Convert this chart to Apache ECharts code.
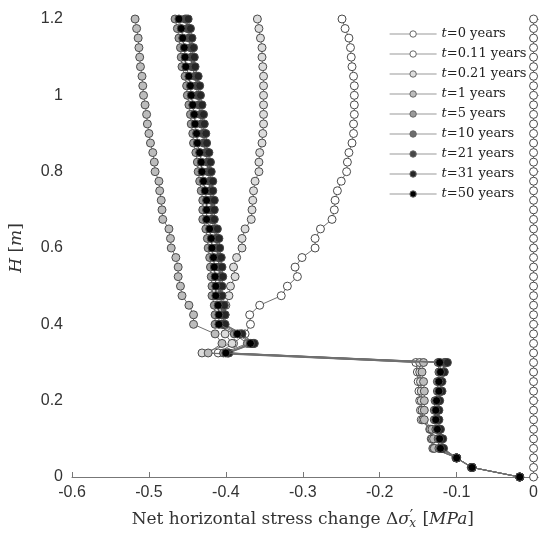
<!DOCTYPE html>
<html>
<head>
<meta charset="utf-8">
<script src="https://cdn.jsdelivr.net/npm/echarts@6/dist/echarts.min.js"></script>
<style>html,body{margin:0;padding:0;background:#fff}#c{width:541px;height:535px}</style>
</head>
<body>
<div id="c"></div>
<script>
// Heights H [m]
var heights = [0,0.025,0.05,0.075,0.1,0.125,0.15,0.175,0.2,0.225,0.25,0.275,0.3,0.325,0.35,0.375,0.4,0.425,0.45,0.475,0.5,0.525,0.55,0.575,0.6,0.625,0.65,0.675,0.7,0.725,0.75,0.775,0.8,0.825,0.85,0.875,0.9,0.925,0.95,0.975,1,1.025,1.05,1.075,1.1,1.125,1.15,1.175,1.2];
var seriesNames = ['0','0.11','0.21','1','5','10','21','31','50'];
var fillColors = ['#ffffff','#ffffff','#dcdcdc','#bcbcbc','#9a9a9a','#6c6c6c','#474747','#262626','#000000'];

var s_t0 = [0,0,0,0,0,0,0,0,0,0,0,0,0,0,0,0,0,0,0,0,0,0,0,0,0,0,0,0,0,0,0,0,0,0,0,0,0,0,0,0,0,0,0,0,0,0,0,0,0];
var s_t011 = [-0.018,-0.080,-0.100,-0.131,-0.133,-0.135,-0.146,-0.147,-0.148,-0.149,-0.150,-0.151,-0.153,
  -0.410,-0.390,-0.375,-0.368,-0.369,-0.356,-0.328,-0.320,-0.307,-0.310,-0.301,-0.284,-0.284,-0.277,-0.262,-0.259,-0.258,-0.255,-0.250,-0.243,-0.242,-0.240,-0.236,-0.234,-0.234,-0.233,-0.233,-0.233,-0.233,-0.234,-0.236,-0.237,-0.238,-0.240,-0.245,-0.249];
var s_t021 = [-0.018,-0.080,-0.100,-0.130,-0.132,-0.134,-0.144,-0.145,-0.146,-0.146,-0.147,-0.148,-0.148,
  -0.431,-0.392,-0.401,-0.402,-0.401,-0.400,-0.396,-0.394,-0.388,-0.390,-0.386,-0.379,-0.379,-0.375,-0.367,-0.366,-0.365,-0.364,-0.362,-0.357,-0.357,-0.356,-0.353,-0.352,-0.351,-0.351,-0.351,-0.351,-0.351,-0.351,-0.352,-0.353,-0.353,-0.355,-0.357,-0.359];
var s_t1 = [-0.018,-0.080,-0.100,-0.129,-0.130,-0.132,-0.142,-0.142,-0.142,-0.142,-0.143,-0.145,-0.143,
  -0.423,-0.405,-0.414,-0.442,-0.442,-0.448,-0.457,-0.459,-0.462,-0.462,-0.465,-0.471,-0.472,-0.474,-0.482,-0.483,-0.484,-0.486,-0.487,-0.492,-0.493,-0.495,-0.498,-0.500,-0.502,-0.503,-0.505,-0.507,-0.508,-0.509,-0.511,-0.512,-0.513,-0.514,-0.516,-0.518];
var s_t5 = [-0.018,-0.081,-0.101,-0.123,-0.124,-0.127,-0.129,-0.129,-0.128,-0.125,-0.125,-0.123,-0.124,
  -0.403,-0.372,-0.389,-0.414,-0.414,-0.415,-0.418,-0.418,-0.419,-0.420,-0.421,-0.423,-0.424,-0.426,-0.430,-0.430,-0.430,-0.432,-0.434,-0.436,-0.437,-0.439,-0.442,-0.443,-0.445,-0.446,-0.448,-0.450,-0.451,-0.453,-0.457,-0.458,-0.459,-0.461,-0.463,-0.466];
var s_t10 = [-0.018,-0.080,-0.100,-0.119,-0.120,-0.123,-0.125,-0.125,-0.124,-0.121,-0.121,-0.118,-0.116,
  -0.398,-0.366,-0.382,-0.405,-0.405,-0.406,-0.409,-0.409,-0.408,-0.409,-0.410,-0.412,-0.413,-0.415,-0.419,-0.419,-0.419,-0.421,-0.421,-0.423,-0.424,-0.426,-0.429,-0.430,-0.432,-0.433,-0.435,-0.437,-0.438,-0.440,-0.444,-0.445,-0.446,-0.448,-0.450,-0.453];
var s_t21 = [-0.018,-0.080,-0.100,-0.118,-0.119,-0.122,-0.124,-0.124,-0.123,-0.120,-0.120,-0.117,-0.114,
  -0.397,-0.364,-0.380,-0.403,-0.403,-0.404,-0.407,-0.407,-0.406,-0.407,-0.408,-0.410,-0.411,-0.413,-0.417,-0.417,-0.417,-0.419,-0.419,-0.421,-0.422,-0.424,-0.427,-0.428,-0.430,-0.431,-0.433,-0.435,-0.436,-0.438,-0.442,-0.443,-0.444,-0.446,-0.448,-0.451];
var s_t31 = [-0.018,-0.080,-0.100,-0.117,-0.118,-0.121,-0.123,-0.123,-0.122,-0.119,-0.119,-0.116,-0.112,
  -0.396,-0.363,-0.379,-0.401,-0.401,-0.402,-0.405,-0.405,-0.404,-0.405,-0.406,-0.408,-0.409,-0.411,-0.415,-0.415,-0.415,-0.417,-0.417,-0.419,-0.420,-0.422,-0.425,-0.426,-0.428,-0.429,-0.431,-0.433,-0.434,-0.436,-0.440,-0.441,-0.442,-0.444,-0.446,-0.449];
var s_t50 = [-0.018,-0.080,-0.100,-0.121,-0.122,-0.125,-0.127,-0.127,-0.126,-0.123,-0.123,-0.121,-0.122,
  -0.400,-0.368,-0.385,-0.409,-0.409,-0.410,-0.413,-0.413,-0.414,-0.415,-0.416,-0.418,-0.419,-0.421,-0.425,-0.425,-0.425,-0.427,-0.429,-0.431,-0.432,-0.434,-0.437,-0.438,-0.440,-0.441,-0.443,-0.445,-0.446,-0.448,-0.452,-0.453,-0.454,-0.456,-0.458,-0.461];

var allValues = [s_t0,s_t011,s_t021,s_t1,s_t5,s_t10,s_t21,s_t31,s_t50];
var xTicks = ['-0.6','-0.5','-0.4','-0.3','-0.2','-0.1','0'];
var yTicks = ['0','0.2','0.4','0.6','0.8','1','1.2'];

var serif = 'DejaVu Serif';
var series = allValues.map(function(vals, i){
  return {
    name: 't=' + seriesNames[i] + ' years',
    type: 'line',
    clip: false,
    data: vals.map(function(v, k){ return [v, heights[k]]; }),
    symbol: 'circle',
    symbolSize: 8,
    lineStyle: {color: '#707070', width: 1},
    itemStyle: {color: fillColors[i], borderColor: '#4a4a4a', borderWidth: 1},
    emphasis: {disabled: true},
    animation: false,
    z: 2 + i
  };
});

var chart = echarts.init(document.getElementById('c'), null, {renderer: 'canvas'});
chart.setOption({
  backgroundColor: '#fff',
  animation: false,
  grid: {left: 72, right: 4, top: 19, bottom: 52, containLabel: false},
  legend: {
    orient: 'vertical',
    left: 384, top: 22,
    itemWidth: 47, itemHeight: 8, itemGap: 6,
    data: series.map(function(s){ return s.name; }),
    lineStyle: {color: '#9a9a9a', width: 1.2},
    itemStyle: {borderColor: '#666', borderWidth: 1},
    formatter: function(name){
      return '{i|t}=' + name.slice(2);
    },
    textStyle: {
      fontFamily: serif, fontSize: 13, color: '#222', lineHeight: 14,
      rich: {i: {fontFamily: serif, fontStyle: 'italic', fontSize: 13, color: '#222'}}
    }
  },
  xAxis: {
    type: 'value', min: -0.6, max: 0, interval: 0.1,
    axisLine: {show: true, lineStyle: {color: '#777', width: 1}},
    axisTick: {show: true, inside: true, length: 5, lineStyle: {color: '#777'}},
    splitLine: {show: false},
    axisLabel: {
      margin: 8, color: '#333', fontFamily: 'Liberation Sans', fontSize: 16,
      formatter: function(v){ return xTicks[Math.round((v + 0.6) * 10)]; }
    },
    name: 'Net horizontal stress change Δ{i|σ}{p|′}{sub|x} [{i|MPa}]',
    nameLocation: 'middle', nameGap: 32,
    nameTextStyle: {
      fontFamily: serif, fontSize: 17, color: '#333',
      rich: {
        i: {fontFamily: serif, fontStyle: 'italic', fontSize: 17, color: '#333'},
        p: {fontFamily: 'DejaVu Sans', fontSize: 15, color: '#333', padding: [0,0,5,0]},
        sub: {fontFamily: serif, fontStyle: 'italic', fontSize: 12, color: '#333', padding: [9,1,0,-4]}
      }
    }
  },
  yAxis: {
    type: 'value', min: 0, max: 1.2, interval: 0.2,
    axisLine: {show: true, lineStyle: {color: '#777', width: 1}},
    axisTick: {show: true, inside: true, length: 5, lineStyle: {color: '#777'}},
    splitLine: {show: false},
    axisLabel: {
      margin: 9, color: '#333', fontFamily: 'Liberation Sans', fontSize: 16,
      formatter: function(v){ return yTicks[Math.round(v * 5)]; }
    },
    name: '{i|H} [{i|m}]',
    nameLocation: 'middle', nameGap: 47,
    nameTextStyle: {
      fontFamily: serif, fontSize: 17, color: '#333',
      rich: {i: {fontFamily: serif, fontStyle: 'italic', fontSize: 17, color: '#333'}}
    }
  },
  series: series
});
</script>
</body>
</html>
